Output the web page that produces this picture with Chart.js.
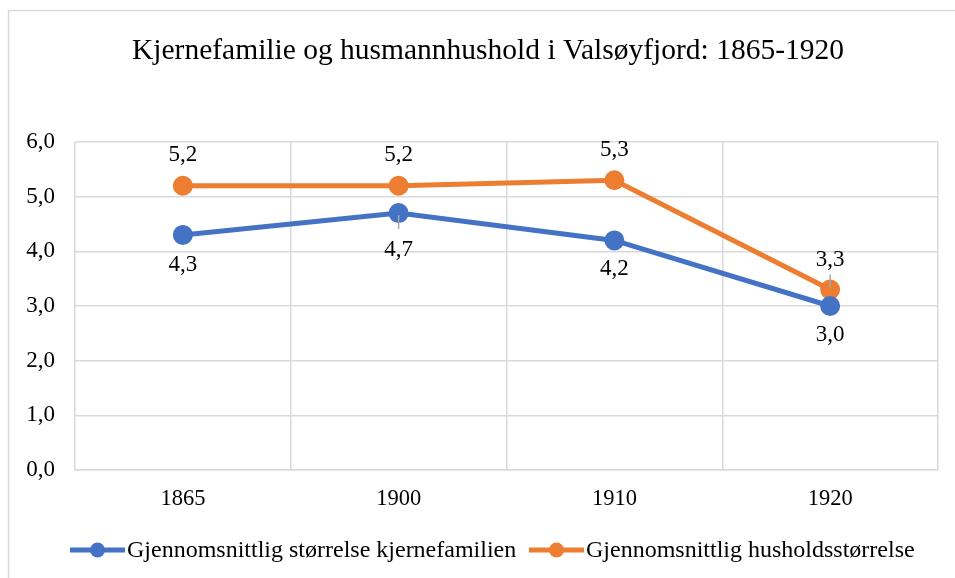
<!DOCTYPE html>
<html>
<head>
<meta charset="utf-8">
<script src="https://cdn.jsdelivr.net/npm/chart.js@4"></script>
<style>
html,body{margin:0;padding:0;background:#fff;}
#wrap{width:955px;height:578px;position:relative;}
</style>
</head>
<body>
<div id="wrap"><canvas id="c" width="955" height="578"></canvas></div>
<script>
const titleText = "Kjernefamilie og husmannhushold i Valsøyfjord: 1865-1920";
const categories = ["1865", "1900", "1910", "1920"];
const seriesNames = ["Gjennomsnittlig størrelse kjernefamilien", "Gjennomsnittlig husholdsstørrelse"];
const kjernefamilie = [4.3, 4.7, 4.2, 3.0];
const hushold = [5.2, 5.2, 5.3, 3.3];
const yTicks = [0, 1, 2, 3, 4, 5, 6];

const SERIF = "'Liberation Serif','Times New Roman',serif";
const BLUE = "#4472C4", ORANGE = "#ED7D31", GRID = "#d9d9d9";
// label placement: +1 below, -1 above; distance in px; leader line gap (0 = none)
const labelCfg = [
  {side: 1, dist: [29, 36, 28, 28], leader: [0, 20, 0, 0]},
  {side: -1, dist: [32, 32, 31, 31], leader: [0, 0, 0, 16]}
];
const fmt = v => v.toFixed(1).replace('.', ',');

const decor = {
  id: 'decor',
  beforeDraw(chart) {
    const ctx = chart.ctx;
    ctx.save();
    ctx.fillStyle = '#fff';
    ctx.fillRect(0, 0, chart.width, chart.height);
    ctx.strokeStyle = GRID;
    ctx.lineWidth = 1.5;
    ctx.beginPath();
    ctx.moveTo(8.5, chart.height);
    ctx.lineTo(8.5, 10.5);
    ctx.lineTo(chart.width, 10.5);
    ctx.stroke();
    ctx.restore();
  },
  afterDatasetsDraw(chart) {
    const ctx = chart.ctx;
    ctx.save();
    ctx.font = "23px " + SERIF;
    ctx.textAlign = 'center';
    ctx.textBaseline = 'middle';
    chart.data.datasets.forEach((ds, di) => {
      const meta = chart.getDatasetMeta(di);
      const cfg = labelCfg[di];
      meta.data.forEach((pt, i) => {
        const dir = cfg.side;
        const ly = pt.y + dir * cfg.dist[i];
        if (cfg.leader[i]) {
          ctx.strokeStyle = '#a6a6a6';
          ctx.lineWidth = 1.5;
          ctx.beginPath();
          ctx.moveTo(pt.x, pt.y + dir * 2);
          ctx.lineTo(pt.x, ly - dir * cfg.leader[i]);
          ctx.stroke();
        }
        ctx.fillStyle = '#000';
        ctx.fillText(fmt(ds.data[i]), pt.x, ly + 1);
      });
    });
    // title
    ctx.font = "29.5px " + SERIF;
    ctx.fillText(titleText, 488, 51);
    // legend
    ctx.font = "24px " + SERIF;
    ctx.textAlign = 'left';
    const items = [
      {x: 70, color: BLUE, text: seriesNames[0]},
      {x: 529, color: ORANGE, text: seriesNames[1]}
    ];
    const ly = 550;
    items.forEach(it => {
      ctx.strokeStyle = it.color;
      ctx.lineWidth = 5;
      ctx.beginPath();
      ctx.moveTo(it.x, ly);
      ctx.lineTo(it.x + 55, ly);
      ctx.stroke();
      ctx.fillStyle = it.color;
      ctx.beginPath();
      ctx.arc(it.x + 27.5, ly, 7.5, 0, Math.PI * 2);
      ctx.fill();
      ctx.fillStyle = '#000';
      ctx.fillText(it.text, it.x + 57, ly + 1);
    });
    ctx.restore();
  }
};

new Chart(document.getElementById('c'), {
  type: 'line',
  data: {
    labels: categories,
    datasets: [
      {label: seriesNames[0], data: kjernefamilie, borderColor: BLUE, backgroundColor: BLUE,
       borderWidth: 5, pointRadius: 7.5, pointHoverRadius: 7.5, tension: 0},
      {label: seriesNames[1], data: hushold, borderColor: ORANGE, backgroundColor: ORANGE,
       borderWidth: 5, pointRadius: 7.5, pointHoverRadius: 7.5, tension: 0}
    ]
  },
  options: {
    responsive: false,
    animation: false,
    devicePixelRatio: 1,
    layout: {padding: {left: 0, right: 17, top: 142, bottom: 0}},
    plugins: {legend: {display: false}, title: {display: false}, tooltip: {enabled: false}},
    scales: {
      x: {
        offset: true,
        grid: {offset: true, color: GRID, lineWidth: 1.5, drawTicks: false},
        border: {color: GRID, width: 1.5},
        ticks: {color: '#000', font: {family: SERIF, size: 22.5}, padding: 16},
        afterFit(s) { s.height = 108; }
      },
      y: {
        min: 0, max: 6,
        afterBuildTicks(s) { s.ticks = yTicks.map(v => ({value: v})); },
        grid: {color: GRID, lineWidth: 1.5, drawTicks: false},
        border: {display: false},
        ticks: {color: '#000', font: {family: SERIF, size: 23}, padding: 20,
                callback: v => fmt(v)},
        afterFit(s) { s.width = 75; }
      }
    }
  },
  plugins: [decor]
});
</script>
</body>
</html>
